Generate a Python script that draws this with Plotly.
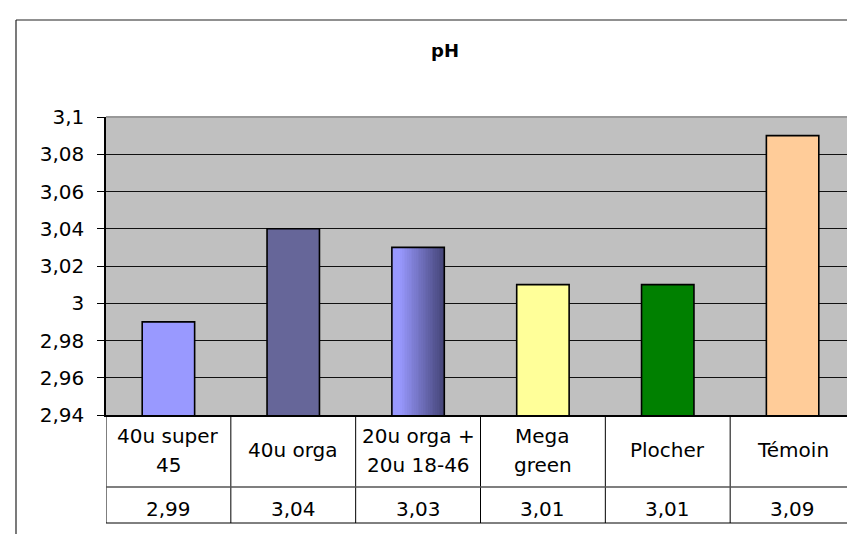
import plotly.graph_objects as go

# ---- data ----
categories = ["40u super\n45", "40u orga", "20u orga +\n20u 18-46", "Mega\ngreen", "Plocher", "Témoin"]
values = [2.99, 3.04, 3.03, 3.01, 3.01, 3.09]
value_labels = ["2,99", "3,04", "3,03", "3,01", "3,01", "3,09"]
bar_colors = ["#9999FF", "#666699", "#9999FF", "#FFFF99", "#008000", "#FFCC99"]
tick_vals = [2.94, 2.96, 2.98, 3.00, 3.02, 3.04, 3.06, 3.08, 3.10]
tick_text = ["2,94", "2,96", "2,98", "3", "3,02", "3,04", "3,06", "3,08", "3,1"]
title_text = "pH"

# ---- layout geometry (pixels) ----
W, H = 855, 534
L, R, T, B = 98, 8, 109, 127
plot_h = H - T - B
plot_w = W - L - R
FONT = "DejaVu Sans"
FS = 20


def py(ypx):
    return (H - B - ypx) / plot_h


def px(xpx):
    return (xpx - L) / plot_w


n = len(categories)
xs = list(range(n))
bw = 0.42
grad_idx = 2

fig = go.Figure()

# gradient fill for the third bar (slices)
N = 30
start = (0x99, 0x99, 0xFF)
end = (0x44, 0x44, 0x77)
slice_colors = []
for i in range(N):
    t = (i + 0.5) / N
    f = 0 if t < 0.15 else (t - 0.15) / 0.85
    c = tuple(round(s + (e - s) * f) for s, e in zip(start, end))
    slice_colors.append("rgb(%d,%d,%d)" % c)
fig.add_trace(go.Bar(
    x=[xs[grad_idx]] * N,
    y=[values[grad_idx]] * N,
    width=[bw / N * 1.02] * N,
    offset=[-bw / 2 + i * bw / N for i in range(N)],
    marker=dict(color=slice_colors, line=dict(width=0)),
    hoverinfo="skip",
    showlegend=False,
))

main_colors = [c if i != grad_idx else "rgba(0,0,0,0)" for i, c in enumerate(bar_colors)]
fig.add_trace(go.Bar(
    x=xs,
    y=values,
    width=bw,
    marker=dict(color=main_colors, line=dict(color="#000000", width=1.6)),
    showlegend=False,
))

shapes = []
# top and right border of plot area (gray)
shapes.append(dict(type="line", xref="paper", yref="paper", x0=0, x1=1, y0=1, y1=1,
                   line=dict(color="#999999", width=2)))
shapes.append(dict(type="line", xref="paper", yref="paper", x0=1, x1=1, y0=0, y1=1,
                   line=dict(color="#999999", width=2)))
# table lines
row1 = py(479)
row2 = py(515)
for k in range(n + 1):
    shapes.append(dict(type="line", xref="x", yref="paper", x0=k - 0.5, x1=k - 0.5,
                       y0=0, y1=row2, line=dict(color="#000000", width=1)))
shapes.append(dict(type="line", xref="x", yref="paper", x0=-0.5, x1=n - 0.5,
                   y0=row1, y1=row1, line=dict(color="#555555", width=1.5)))
shapes.append(dict(type="line", xref="x", yref="paper", x0=-0.5, x1=n - 0.5,
                   y0=row2, y1=row2, line=dict(color="#000000", width=1)))
# outer chart frame
shapes.append(dict(type="line", xref="paper", yref="paper", x0=px(8), x1=px(870),
                   y0=py(12), y1=py(12), line=dict(color="#222222", width=1.2)))
shapes.append(dict(type="line", xref="paper", yref="paper", x0=px(8), x1=px(8),
                   y0=py(12), y1=py(560), line=dict(color="#222222", width=1.2)))

annotations = []
for i, cat in enumerate(categories):
    lines = cat.split("\n")
    if len(lines) == 1:
        ys = [442]
    else:
        ys = [428, 457]
    for line, ypx in zip(lines, ys):
        annotations.append(dict(x=xs[i], y=py(ypx), xref="x", yref="paper", text=line,
                                showarrow=False, xanchor="center", yanchor="middle",
                                font=dict(family=FONT, size=FS, color="#000000")))
    annotations.append(dict(x=xs[i], y=py(501), xref="x", yref="paper", text=value_labels[i],
                            showarrow=False, xanchor="center", yanchor="middle",
                            font=dict(family=FONT, size=FS, color="#000000")))

fig.update_layout(
    width=W, height=H,
    margin=dict(l=L, r=R, t=T, b=B, autoexpand=False),
    paper_bgcolor="#FFFFFF",
    plot_bgcolor="#C0C0C0",
    barmode="overlay",
    title=dict(text="<b>%s</b>" % title_text, x=437 / W, y=1 - 43 / H,
               xanchor="center", yanchor="middle",
               font=dict(family=FONT, size=18, color="#000000")),
    xaxis=dict(range=[-0.5, n - 0.5], showticklabels=False, showgrid=False, zeroline=False,
               showline=True, linecolor="#000000", linewidth=1.5, ticks=""),
    yaxis=dict(range=[2.94, 3.10], tickvals=tick_vals, ticktext=tick_text,
               showgrid=True, gridcolor="#111111", gridwidth=1, zeroline=False,
               showline=True, linecolor="#000000", linewidth=1.5,
               ticks="outside", ticklen=7, tickcolor="#000000", tickwidth=1,
               ticklabelstandoff=9,
               tickfont=dict(family=FONT, size=FS, color="#000000")),
    shapes=shapes,
    annotations=annotations,
    showlegend=False,
)

fig.write_html("out.html")
